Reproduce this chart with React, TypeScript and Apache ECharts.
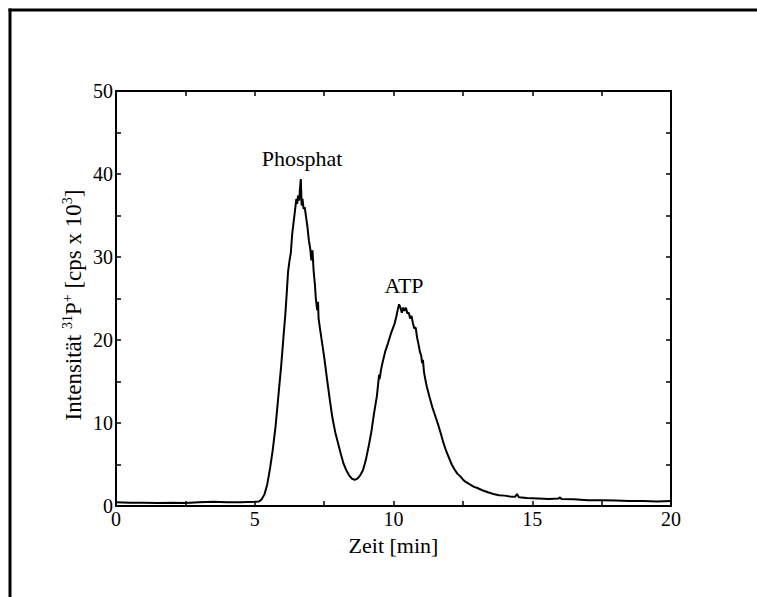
import React, { useEffect, useRef } from "react";
import * as echarts from "echarts";

const timeMin: number[] = [
  0.0, 0.5, 1.0, 1.5, 2.0, 2.5, 3.0, 3.5, 4.0, 4.5, 5.0, 5.15, 5.25, 5.35, 5.45, 5.55, 5.65, 5.75, 5.85, 5.95,
  6.05, 6.1, 6.15, 6.2, 6.25, 6.3, 6.35, 6.4, 6.45, 6.5, 6.53, 6.56, 6.6, 6.63, 6.66, 6.69, 6.72, 6.76, 6.8, 6.85,
  6.9, 6.95, 7.0, 7.04, 7.08, 7.12, 7.17, 7.2, 7.25, 7.28, 7.3, 7.35, 7.42, 7.5, 7.6, 7.7, 7.8, 7.9, 8.0, 8.1,
  8.2, 8.3, 8.4, 8.5, 8.6, 8.7, 8.8, 8.9, 9.0, 9.1, 9.2, 9.3, 9.4, 9.45, 9.48, 9.5, 9.55, 9.6, 9.7, 9.8,
  9.9, 10.0, 10.05, 10.1, 10.15, 10.2, 10.25, 10.3, 10.35, 10.4, 10.45, 10.5, 10.55, 10.6, 10.65, 10.7, 10.75, 10.8, 10.85, 10.9,
  10.95, 11.0, 11.03, 11.06, 11.1, 11.15, 11.2, 11.3, 11.4, 11.5, 11.6, 11.7, 11.8, 11.9, 12.0, 12.1, 12.2, 12.3, 12.4, 12.5,
  12.6, 12.75, 12.9, 13.0, 13.2, 13.4, 13.6, 13.8, 14.0, 14.2, 14.38, 14.45, 14.52, 14.8, 15.2, 15.6, 15.95, 16.0, 16.05, 16.5,
  17.0, 17.5, 18.0, 18.5, 19.0, 19.5, 20.0,
];

const intensity: number[] = [
  0.45, 0.4, 0.4, 0.35, 0.4, 0.35, 0.45, 0.5, 0.45, 0.45, 0.5, 0.55, 0.8, 1.4, 2.6, 4.5, 6.8, 9.6, 13.2, 16.8,
  21.0, 23.0, 25.5, 28.2, 29.5, 30.5, 32.8, 34.2, 35.6, 37.0, 36.4, 37.4, 36.8, 38.2, 39.4, 36.2, 37.0, 35.8, 36.0, 34.8,
  33.6, 32.0, 31.0, 29.6, 30.8, 28.4, 26.6, 25.0, 23.6, 24.6, 22.6, 21.4, 19.8, 18.0, 15.4, 12.9, 10.6, 8.9, 7.6, 6.3,
  5.1, 4.3, 3.7, 3.3, 3.15, 3.3, 3.7, 4.3, 5.5, 7.1, 8.9, 11.2, 13.2, 14.8, 15.8, 15.3, 16.4, 17.2, 18.6, 19.6,
  20.7, 21.6, 22.1, 22.8, 23.6, 24.3, 23.9, 23.3, 23.9, 23.5, 23.9, 23.2, 23.3, 22.6, 22.9, 22.0, 21.4, 21.5, 20.3, 19.5,
  18.6, 18.1, 17.2, 17.6, 16.1, 15.2, 14.4, 13.1, 11.9, 10.9, 9.9, 8.8, 7.6, 6.6, 5.8, 5.0, 4.4, 3.9, 3.6, 3.2,
  2.9, 2.6, 2.3, 2.2, 1.9, 1.65, 1.45, 1.3, 1.25, 1.15, 1.1, 1.45, 1.05, 0.95, 0.9, 0.85, 0.9, 1.05, 0.85, 0.8,
  0.7, 0.7, 0.65, 0.6, 0.6, 0.55, 0.6,
];

const peakLabels: string[] = ["Phosphat", "ATP"];
const xAxisTitle = "Zeit [min]";

const FONT = "Liberation Serif";

export default function App() {
  const ref = useRef<HTMLDivElement>(null);
  useEffect(() => {
    document.body.style.margin = "0";
    document.body.style.overflow = "hidden";
    if (!ref.current) return;
    const chart = echarts.init(ref.current, undefined, { renderer: "svg" });
    const data = timeMin.map((t, i) => [t, intensity[i]]);
    const axisCommon = {
      axisLine: { show: true, onZero: false, lineStyle: { color: "#000", width: 2 } },
      axisTick: { show: true, inside: true, length: 5, lineStyle: { color: "#000", width: 1.5 } },
      minorTick: { show: true, splitNumber: 2, length: 5, lineStyle: { color: "#000", width: 1.5 } },
      splitLine: { show: false },
    };
    chart.setOption({
      animation: false,
      backgroundColor: "#fff",
      grid: { left: 116, top: 91, right: 86, bottom: 91 },
      xAxis: [
        {
          type: "value",
          min: 0,
          max: 20,
          interval: 5,
          position: "bottom",
          ...axisCommon,
          axisLabel: { color: "#000", fontFamily: FONT, fontSize: 20, margin: 3 },
          name: xAxisTitle,
          nameLocation: "middle",
          nameGap: 28,
          nameTextStyle: { color: "#000", fontFamily: FONT, fontSize: 22 },
        },
        {
          type: "value",
          min: 0,
          max: 20,
          interval: 5,
          position: "top",
          ...axisCommon,
          axisLabel: { show: false },
        },
      ],
      yAxis: [
        {
          type: "value",
          min: 0,
          max: 50,
          interval: 10,
          position: "left",
          ...axisCommon,
          axisLabel: { color: "#000", fontFamily: FONT, fontSize: 20, margin: 3 },
        },
        {
          type: "value",
          min: 0,
          max: 50,
          interval: 10,
          position: "right",
          ...axisCommon,
          axisLabel: { show: false },
        },
      ],
      graphic: [
        {
          type: "line",
          shape: { x1: 10, y1: 8.5, x2: 10, y2: 597 },
          style: { stroke: "#000", lineWidth: 3 },
          silent: true,
        },
        {
          type: "line",
          shape: { x1: 8.5, y1: 10, x2: 757, y2: 10 },
          style: { stroke: "#000", lineWidth: 3 },
          silent: true,
        },
        {
          type: "text",
          x: 73,
          y: 305,
          rotation: Math.PI / 2,
          style: {
            text: "{n|Intensität }{s|31}{n|P}{s|+}{n| [cps x 10}{s|3}{n|]}",
            fill: "#000",
            align: "center",
            verticalAlign: "middle",
            rich: {
              n: { fontFamily: FONT, fontSize: 23, fill: "#000", lineHeight: 26 },
              s: { fontFamily: FONT, fontSize: 14, fill: "#000", verticalAlign: "top", lineHeight: 26, padding: [0, 0, 10, 0] },
            },
          },
        },
        {
          type: "text",
          x: 302,
          y: 158,
          style: { text: peakLabels[0], font: `22px "${FONT}"`, fill: "#000", textAlign: "center", textVerticalAlign: "middle" },
        },
        {
          type: "text",
          x: 404,
          y: 285,
          style: { text: peakLabels[1], font: `22px "${FONT}"`, fill: "#000", textAlign: "center", textVerticalAlign: "middle" },
        },
      ],
      series: [
        {
          type: "line",
          data,
          showSymbol: false,
          symbol: "none",
          lineStyle: { color: "#000", width: 2 },
          xAxisIndex: 0,
          yAxisIndex: 0,
        },
      ],
    });
    return () => chart.dispose();
  }, []);
  return <div ref={ref} style={{ width: 757, height: 597 }} />;
}
